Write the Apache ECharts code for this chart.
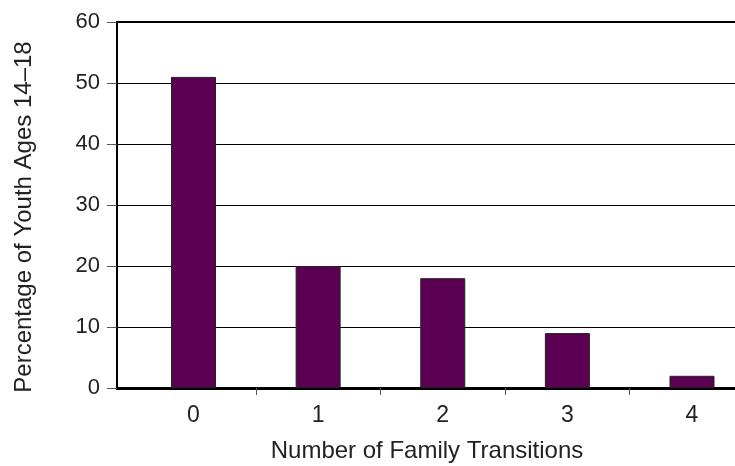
<!DOCTYPE html>
<html>
<head>
<meta charset="utf-8">
<script src="https://cdn.jsdelivr.net/npm/echarts@6/dist/echarts.min.js"></script>
<style>
html,body{margin:0;padding:0;background:#fff;}
#c{width:735px;height:466px;}
</style>
</head>
<body>
<div id="c"></div>
<script>
var categories = ['0', '1', '2', '3', '4'];
var percentages = [51, 20, 18, 9, 2];
var yTicks = [0, 10, 20, 30, 40, 50, 60];
var yTitle = 'Percentage of Youth Ages 14\u201318';
var xTitle = 'Number of Family Transitions';

var FONT = 'Liberation Sans, Arial, sans-serif';
var barData = percentages.map(function (v, i) { return [i, v]; });
var chart = echarts.init(document.getElementById('c'));
chart.setOption({
  animation: false,
  backgroundColor: '#fff',
  grid: [
    {left: 117, right: 0, top: 22, bottom: 78},
    {left: 193.5, right: 43, top: 22, bottom: 78}
  ],
  xAxis: [
    {gridIndex: 0, type: 'value', min: 0, max: 1, position: 'bottom',
     axisLine: {show: true, onZero: false, lineStyle: {color: '#000', width: 3}},
     axisTick: {show: false}, axisLabel: {show: false}, splitLine: {show: false}},
    {gridIndex: 0, type: 'value', min: 0, max: 1, position: 'top',
     axisLine: {show: true, onZero: false, lineStyle: {color: '#000', width: 2}},
     axisTick: {show: false}, axisLabel: {show: false}, splitLine: {show: false}},
    {gridIndex: 1, type: 'value', min: 0, max: categories.length - 1, interval: 1, position: 'bottom',
     axisLine: {show: false, onZero: false},
     axisTick: {show: false},
     minorTick: {show: true, splitNumber: 2, length: 7, lineStyle: {color: '#555', width: 1}},
     axisLabel: {color: '#222', fontSize: 23, fontFamily: FONT, margin: 16,
                 showMinLabel: true, showMaxLabel: true,
                 formatter: function (v) { return categories[Math.round(v)]; }},
     splitLine: {show: false}, minorSplitLine: {show: false}}
  ],
  yAxis: [
    {gridIndex: 0, type: 'value', min: yTicks[0], max: yTicks[yTicks.length - 1], interval: 10,
     axisLine: {show: true, lineStyle: {color: '#000', width: 2}},
     axisTick: {show: true, length: 10, lineStyle: {color: '#555', width: 1}},
     axisLabel: {color: '#222', fontSize: 22, fontFamily: FONT, margin: 17},
     splitLine: {show: true, lineStyle: {color: '#000', width: 1}}},
    {gridIndex: 1, type: 'value', min: yTicks[0], max: yTicks[yTicks.length - 1], show: false}
  ],
  series: [{
    type: 'bar', xAxisIndex: 2, yAxisIndex: 1, clip: false,
    data: barData, barWidth: 45,
    itemStyle: {color: '#5b0052', borderColor: '#222', borderWidth: 1}
  }],
  graphic: [
    {type: 'text', x: 427, y: 451, style: {text: xTitle, fill: '#222', font: '24px ' + FONT, textAlign: 'center', textVerticalAlign: 'middle'}},
    {type: 'text', rotation: Math.PI / 2, x: 24, y: 217, style: {text: yTitle, fill: '#222', font: '24px ' + FONT, textAlign: 'center', textVerticalAlign: 'middle'}}
  ]
});
</script>
</body>
</html>
